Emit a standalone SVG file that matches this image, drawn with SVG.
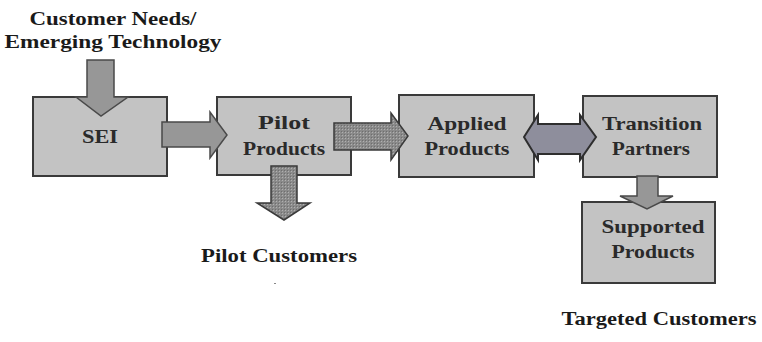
<svg xmlns="http://www.w3.org/2000/svg" width="762" height="342" viewBox="0 0 762 342">
<defs>
<pattern id="stip" width="3" height="3" patternUnits="userSpaceOnUse">
<rect width="3" height="3" fill="#8a8a8a"/>
<rect width="1" height="1" fill="#b0b0b0"/>
<rect x="2" y="2" width="1" height="1" fill="#6e6e6e"/>
</pattern>
</defs>
<style>
.box{fill:#c3c3c3;stroke:#3a3a3a;stroke-width:2}
.lbl{font-family:"Liberation Serif",serif;font-weight:bold;font-size:19px;fill:#2a2a2a;text-anchor:middle}
.cap{font-family:"Liberation Serif",serif;font-weight:bold;font-size:18px;fill:#1a1a1a;text-anchor:middle}
.arr{fill:#979797;stroke:#4a4a4a;stroke-width:1.5;stroke-linejoin:miter}
.arrd{fill:url(#stip);stroke:#3a3a3a;stroke-width:1.5}
.arrb{fill:#8e8e9c;stroke:#2e2e2e;stroke-width:2}
</style>
<rect width="762" height="342" fill="#ffffff"/>
<text class="cap" x="113" y="25" textLength="167" lengthAdjust="spacingAndGlyphs">Customer Needs/</text>
<text class="cap" x="113" y="48" textLength="217" lengthAdjust="spacingAndGlyphs">Emerging Technology</text>
<g id="sei"><rect class="box" x="33" y="97" width="134" height="79"/><text class="lbl" x="100" y="143" textLength="36" lengthAdjust="spacingAndGlyphs">SEI</text></g>
<g id="pilot"><rect class="box" x="217" y="97" width="134" height="78"/><text class="lbl" x="284" y="129" textLength="52" lengthAdjust="spacingAndGlyphs">Pilot</text><text class="lbl" x="284" y="155" textLength="82" lengthAdjust="spacingAndGlyphs">Products</text></g>
<g id="applied"><rect class="box" x="399" y="95" width="135" height="82"/><text class="lbl" x="467" y="130" textLength="79" lengthAdjust="spacingAndGlyphs">Applied</text><text class="lbl" x="467" y="155" textLength="85" lengthAdjust="spacingAndGlyphs">Products</text></g>
<g id="transition"><rect class="box" x="583" y="96" width="134" height="81"/><text class="lbl" x="652" y="130" textLength="100" lengthAdjust="spacingAndGlyphs">Transition</text><text class="lbl" x="651" y="155" textLength="78" lengthAdjust="spacingAndGlyphs">Partners</text></g>
<g id="supported"><rect class="box" x="582" y="202" width="133" height="81"/><text class="lbl" x="653" y="233" textLength="103" lengthAdjust="spacingAndGlyphs">Supported</text><text class="lbl" x="653" y="258" textLength="83" lengthAdjust="spacingAndGlyphs">Products</text></g>
<g id="connectors">
<polygon class="arr" points="87,60 114,60 114,97 128,97 101,116 76,97 87,97"/>
<polygon class="arr" points="162,122 210,122 210,112 227,135 210,158 210,147 162,147"/>
<polygon class="arrd" points="334,123 391,123 391,113 408,136 391,160 391,150 334,150"/>
<polygon class="arrb" points="524,137 538,115 538,124 580,124 580,115 596,137 580,160 580,154 538,154 538,160"/>
<polygon class="arrd" points="271,166 297,166 297,203 310,203 284,220 257,203 271,203"/>
<polygon class="arr" points="637,176 658,176 658,196 673,196 647,209 620,196 637,196"/>
</g>
<text class="cap" x="279" y="262" textLength="156" lengthAdjust="spacingAndGlyphs">Pilot Customers</text>
<rect x="274" y="283" width="2" height="1" fill="#888"/>
<text class="cap" x="659" y="325" textLength="195" lengthAdjust="spacingAndGlyphs">Targeted Customers</text>
</svg>
